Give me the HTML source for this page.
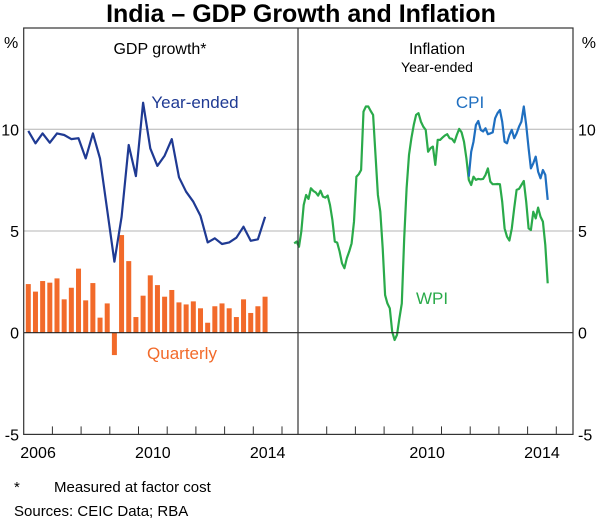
<!DOCTYPE html>
<html><head><meta charset="utf-8">
<style>
body{margin:0;background:#fff;}
svg text{font-family:"Liberation Sans",Arial,sans-serif;}
</style></head>
<body>
<svg width="600" height="520" viewBox="0 0 600 520" xmlns="http://www.w3.org/2000/svg">
<text x="301" y="22" font-size="25" font-weight="bold" text-anchor="middle">India – GDP Growth and Inflation</text>
<g id="grid"></g>
<g id="marks"></g>
<g id="axes"></g>
<text x="160" y="54" font-size="16" text-anchor="middle">GDP growth*</text>
<text x="437" y="54" font-size="16" text-anchor="middle">Inflation</text>
<text x="437" y="72" font-size="14" text-anchor="middle">Year-ended</text>
<text x="195" y="108" font-size="17" fill="#1f3a93" text-anchor="middle">Year-ended</text>
<text x="182" y="359" font-size="17" fill="#f26a2a" text-anchor="middle">Quarterly</text>
<text x="470" y="108" font-size="17" fill="#1f6fc0" text-anchor="middle">CPI</text>
<text x="432" y="304" font-size="17" fill="#2aaa4a" text-anchor="middle">WPI</text>
<text x="4" y="48" font-size="16">%</text>
<text x="596" y="48" font-size="16" text-anchor="end">%</text>
<text x="14" y="492" font-size="15">*</text>
<text x="54" y="492" font-size="15">Measured at factor cost</text>
<text x="14" y="516" font-size="15">Sources:  CEIC Data; RBA</text>
</svg>
<script>
const yTicks=[-5,0,5,10];
const gdpYearEnded=[9.92,9.31,9.80,9.34,9.80,9.72,9.52,9.56,8.57,9.80,8.57,6.03,3.49,5.70,9.23,7.70,11.31,9.06,8.20,8.70,9.52,7.64,6.93,6.44,5.74,4.44,4.64,4.36,4.44,4.67,5.21,4.52,4.59,5.70];
const gdpQuarterly=[2.39,2.02,2.54,2.46,2.67,1.64,2.21,3.15,1.59,2.44,0.74,1.44,-1.10,4.80,3.52,0.77,1.82,2.82,2.34,1.77,2.10,1.49,1.39,1.54,1.20,0.49,1.30,1.44,1.20,0.77,1.64,0.97,1.30,1.77];
const gdpStart=2006.16;
const wpi=[4.39,4.48,4.23,4.97,6.28,6.77,6.58,7.1,6.97,6.9,6.74,6.98,6.69,6.64,6.74,6.28,5.54,4.48,4.43,3.99,3.41,3.17,3.66,3.99,4.39,5.46,7.67,7.79,8.0,10.87,11.12,11.12,10.9,10.71,8.74,6.77,5.95,4.15,1.85,1.44,1.2,0.05,-0.36,-0.11,0.71,1.44,4.64,7.1,8.74,9.56,10.22,10.71,
10.79,10.38,10.13,9.97,8.9,9.07,9.15,8.25,9.48,9.48,9.59,9.69,9.76,9.56,9.53,9.36,9.72,10.02,9.85,9.39,8.57,7.51,7.26,7.67,7.51,7.56,7.54,7.56,7.76,8.08,7.43,7.3,7.3,7.31,7.3,6.44,5.13,4.72,4.53,5.13,6.12,7.02,7.07,7.26,7.46,6.44,5.13,5.05,5.95,5.62,6.15,5.71,5.46,4.31,2.43];
const cpi=[7.67,8.9,9.39,10.21,10.41,9.97,9.89,10.05,9.76,9.8,9.85,10.54,10.79,10.95,10.38,9.39,9.31,9.72,9.97,9.56,9.8,10.13,10.38,11.12,10.21,9.07,8.08,8.33,8.66,7.92,7.59,8.0,7.76,6.53];
const inflEnd=2014.70;

const NS="http://www.w3.org/2000/svg";
const Y=v=>332.7-v*20.34;
const XL=t=>23.7+(t-2006)*28.7;
const XR=t=>298+(t-2006)*28.7;
function mk(tag,attrs,parent){const e=document.createElementNS(NS,tag);for(const k in attrs)e.setAttribute(k,attrs[k]);parent.appendChild(e);return e;}
const grid=document.getElementById('grid'),marks=document.getElementById('marks'),axes=document.getElementById('axes');
const L=23.7,M=298,R=573,T=28,B=434.4;
[5,10].forEach(v=>{const l=mk('line',{x1:L,x2:R,y1:Y(v),y2:Y(v),stroke:'#b4b4b4','stroke-width':1},grid);

});
const bg=mk('g',{},marks);


gdpQuarterly.forEach((v,i)=>{const x=XL(gdpStart+i*0.25);const y0=Y(0),y1=Y(v);
const r=mk('rect',{x:x-2.5,width:5,y:Math.min(y0,y1),height:Math.abs(y1-y0),fill:'#f26a2a'},bg);

});
function line(arr,xf,t0,step,color,name){const pts=arr.map((v,i)=>xf(t0+i*step).toFixed(1)+','+Y(v).toFixed(1)).join(' ');
const p=mk('polyline',{points:pts,fill:'none',stroke:color,'stroke-width':2.2,'stroke-linejoin':'round'},marks);

}
line(gdpYearEnded,XL,gdpStart,0.25,'#1f3a93','gdp-year-ended-line');
line(wpi,XR,inflEnd-(wpi.length-1)/12,1/12,'#2aaa4a','wpi-line');
line(cpi,XR,inflEnd-(cpi.length-1)/12,1/12,'#1f6fc0','cpi-line');
mk('line',{x1:L,x2:R,y1:Y(0),y2:Y(0),stroke:'#222','stroke-width':1.2},axes);
mk('rect',{x:L,y:T,width:R-L,height:B-T,fill:'none',stroke:'#333','stroke-width':1.2},axes);
mk('line',{x1:M,x2:M,y1:T,y2:B,stroke:'#333','stroke-width':1.2},axes);
for(let y=2007;y<=2015;y++){[XL(y),XR(y)].forEach(x=>{if(x<R-1&&Math.abs(x-M)>2)mk('line',{x1:x,x2:x,y1:B,y2:B-8,stroke:'#333','stroke-width':1},axes);});}
const xLabelsL=[2006,2010,2014],xLabelsR=[2010,2014];
xLabelsL.forEach(y=>{const t=mk('text',{x:XL(y+0.5),y:458,'font-size':16,'text-anchor':'middle'},axes);t.textContent=y;

});
xLabelsR.forEach(y=>{const t=mk('text',{x:XR(y+0.5),y:458,'font-size':16,'text-anchor':'middle'},axes);t.textContent=y;

});
yTicks.forEach(v=>{const a=mk('text',{x:19,y:Y(v)+6,'font-size':16,'text-anchor':'end'},axes);a.textContent=v;


const b=mk('text',{x:578,y:Y(v)+6,'font-size':16},axes);b.textContent=v;

});
</script>
</body></html>
